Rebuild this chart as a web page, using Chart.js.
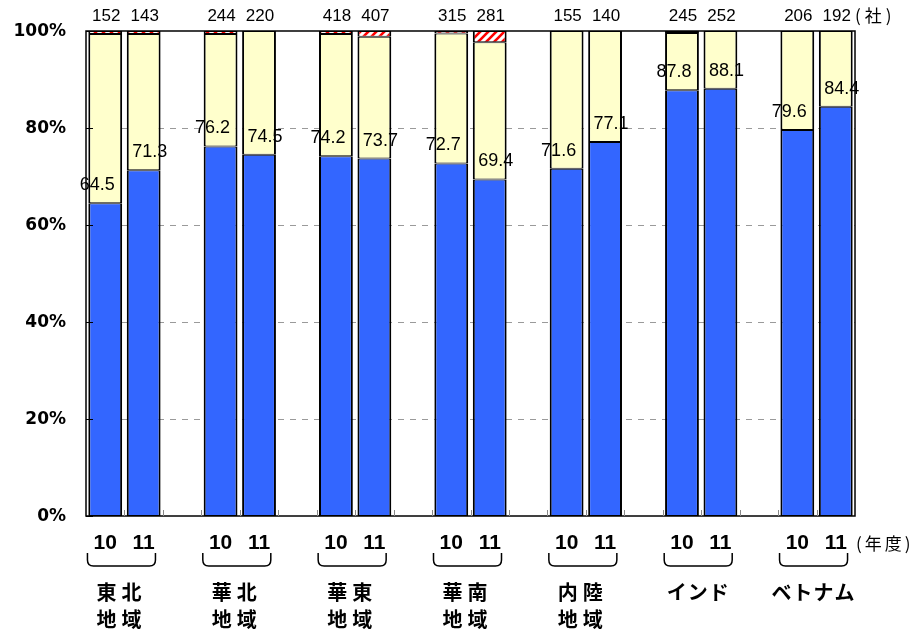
<!DOCTYPE html>
<html><head><meta charset="utf-8">
<script src="https://cdn.jsdelivr.net/npm/chart.js@4/dist/chart.umd.min.js"></script>
<style>html,body{margin:0;padding:0;background:#fff}#wrap{width:923px;height:635px}</style>
</head><body><div id="wrap"><canvas id="c" width="923" height="635"></canvas></div>
<script>
const regions = [["東北","地域"],["華北","地域"],["華東","地域"],["華南","地域"],["内陸","地域"],["インド"],["ベトナム"]];
const years = ["10","11"];
const companyCounts = [152,143,244,220,418,407,315,281,155,140,245,252,206,192];
const blueShare   = [64.5,71.3,76.2,74.5,74.2,73.7,72.7,69.4,71.6,77.1,87.8,88.1,79.6,84.4];
const yellowShare = [34.9,28.1,23.2,25.5,25.2,25.1,26.8,28.3,28.4,22.9,11.8,11.9,20.4,15.6];
const blackShare  = [0,0,0,0,0,0,0,0,0,0,0.4,0,0,0];
const hatchShare  = [0.6,0.6,0.6,0,0.6,1.2,0.5,2.3,0,0,0,0,0,0];
const yTicks = [0,20,40,60,80,100];
const countUnit = "(社)";
const yearUnit = "(年度)";

// slot layout: each region = two year bars + one empty slot (none after last)
const nBars = blueShare.length;
const slotOf = i => Math.floor(i/2)*3 + (i%2);
const nSlots = slotOf(nBars-1) + 1;
const slotLabels = [];
for (let s = 0; s < nSlots; s++) slotLabels.push(s % 3 === 2 ? "" : years[s % 3]);
function toSlots(arr){
  const out = new Array(nSlots).fill(null);
  arr.forEach((v,i)=>{ out[slotOf(i)] = v === 0 ? null : v; });
  return out;
}

// hatch pattern
function makeHatch(){
  const c = document.createElement('canvas'); c.width = 8; c.height = 8;
  const g = c.getContext('2d');
  g.fillStyle = '#fff'; g.fillRect(0,0,8,8);
  g.strokeStyle = '#ff0000'; g.lineWidth = 2.6;
  g.beginPath();
  g.moveTo(-2,10); g.lineTo(10,-2);
  g.moveTo(-2,2); g.lineTo(2,-2);
  g.moveTo(6,10); g.lineTo(10,6);
  g.stroke();
  return g.createPattern(c,'repeat');
}

const SANS = "'Liberation Sans', Arial, sans-serif";
const CJK = "'Noto Sans CJK JP', sans-serif";

const deco = {
  id:'deco',
  beforeDatasetsDraw(chart){
    const {ctx, chartArea:a, scales:{y}} = chart;
    ctx.save();
    ctx.strokeStyle = '#9a9a9a'; ctx.lineWidth = 1; ctx.setLineDash([6,6]);
    yTicks.forEach(t=>{
      if (t === 0 || t === 100) return;
      const py = Math.round(y.getPixelForValue(t)) + 0.5;
      ctx.beginPath(); ctx.moveTo(a.left, py); ctx.lineTo(a.right, py); ctx.stroke();
    });
    ctx.restore();
  },
  afterDatasetsDraw(chart){
    const {ctx, chartArea:a, scales:{x,y}} = chart;
    const meta = chart.getDatasetMeta(0);
    ctx.save();
    // frame
    ctx.strokeStyle = '#000'; ctx.lineWidth = 1.5; ctx.setLineDash([]);
    ctx.strokeRect(a.left, a.top, a.right - a.left, a.bottom - a.top);
    // y ticks inward
    ctx.lineWidth = 1;
    yTicks.forEach(t=>{
      const py = Math.round(y.getPixelForValue(t)) + 0.5;
      ctx.beginPath(); ctx.moveTo(a.left, py); ctx.lineTo(a.left + 7, py); ctx.stroke();
    });
    // x ticks inward at slot boundaries
    ctx.strokeStyle = '#888';
    for (let s = 1; s < nSlots; s++){
      const px = Math.round((x.getPixelForValue(s-1) + x.getPixelForValue(s))/2) + 0.5;
      ctx.beginPath(); ctx.moveTo(px, a.bottom); ctx.lineTo(px, a.bottom - 6); ctx.stroke();
    }
    // y tick labels
    ctx.fillStyle = '#000';
    ctx.font = "bold 17px 'DejaVu Sans', sans-serif";
    ctx.textAlign = 'right'; ctx.textBaseline = 'middle';
    yTicks.forEach(t=>{ ctx.fillText(t + '%', 66, y.getPixelForValue(t) + 1); });
    // value labels & counts
    for (let i = 0; i < nBars; i++){
      const bar = meta.data[slotOf(i)];
      const bx = bar.x;
      ctx.font = "18px " + SANS; ctx.textAlign = 'center'; ctx.textBaseline = 'middle';
      ctx.fillText(blueShare[i].toFixed(1), bx + (i%2 === 0 ? -8 : 6), y.getPixelForValue(blueShare[i]) - 18);
      ctx.font = "17px " + SANS;
      ctx.fillText(String(companyCounts[i]), bx + 1, 16);
      // year labels
      ctx.font = "bold 21px " + SANS;
      ctx.fillText(years[i%2], bx, 543);
    }
    // units
    ctx.textAlign = 'left'; ctx.font = "17px " + CJK;
    ctx.letterSpacing = '4px';
    ctx.fillText(countUnit, 855, 16);
    ctx.font = "17px " + CJK;
    ctx.letterSpacing = '3px';
    ctx.fillText(yearUnit, 856, 544);
    ctx.letterSpacing = '0px';
    // braces & region names
    ctx.strokeStyle = '#000'; ctx.lineWidth = 1.5;
    regions.forEach((lines, g)=>{
      const x1b = meta.data[slotOf(2*g)].x, x2b = meta.data[slotOf(2*g+1)].x;
      const cx = (x1b + x2b)/2 - 3;
      const L = cx - 34, R = cx + 34, top = 553, bot = 566;
      ctx.beginPath();
      ctx.moveTo(L, top); ctx.lineTo(L, bot - 6);
      ctx.quadraticCurveTo(L, bot, L + 6, bot);
      ctx.lineTo(R - 6, bot);
      ctx.quadraticCurveTo(R, bot, R, bot - 6);
      ctx.lineTo(R, top);
      ctx.stroke();
      ctx.font = "bold 20px " + CJK; ctx.textAlign = 'center'; ctx.textBaseline = 'middle';
      const kana = lines.length === 1;
      ctx.letterSpacing = kana ? '1px' : '5px';
      lines.forEach((t, k)=>{ ctx.fillText(t, cx, 592 + k*27); });
      ctx.letterSpacing = '0px';
    });
    ctx.restore();
  }
};

const common = {borderColor:'#000', borderWidth:{top:1,bottom:1,left:2,right:2}, borderSkipped:false,
  barPercentage:0.88, categoryPercentage:1.0};

new Chart(document.getElementById('c').getContext('2d'), {
  type:'bar',
  data:{labels: slotLabels, datasets:[
    Object.assign({label:'blue', data: toSlots(blueShare), backgroundColor:'#3366FF'}, common),
    Object.assign({label:'yellow', data: toSlots(yellowShare), backgroundColor:'#FFFFCC'}, common),
    Object.assign({label:'black', data: toSlots(blackShare), backgroundColor:'#000000'}, common),
    Object.assign({label:'hatch', data: toSlots(hatchShare), backgroundColor: makeHatch()}, common)
  ]},
  options:{
    responsive:false, animation:false, devicePixelRatio:1,
    layout:{padding:{left:86, top:31, right:68, bottom:119}},
    plugins:{legend:{display:false}, tooltip:{enabled:false}},
    scales:{
      x:{stacked:true, display:false},
      y:{stacked:true, display:false, min:0, max:100}
    }
  },
  plugins:[deco]
});
</script></body></html>
